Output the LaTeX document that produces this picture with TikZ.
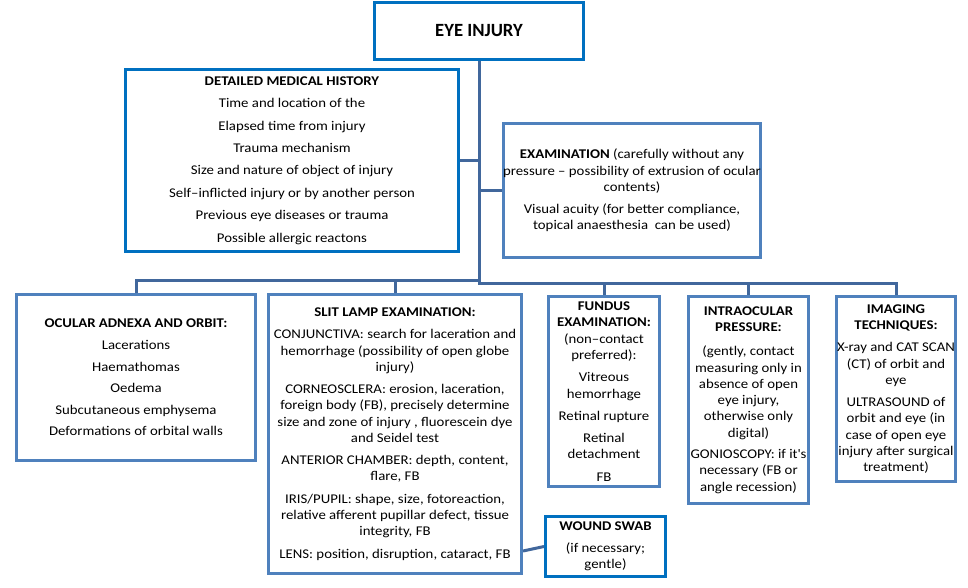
\documentclass[tikz,border=0pt]{standalone}
\usepackage{fontspec}
\setmainfont{Carlito}[FakeStretch=1.11]
\newfontfamily\plainfont{Carlito}
\usetikzlibrary{calc}
\definecolor{strongblue}{HTML}{0070C0}
\definecolor{steelblue}{HTML}{4F81BD}
\definecolor{linkblue}{HTML}{41679C}
\begin{document}
\begin{tikzpicture}[x=0.75pt,y=-0.75pt,
  box/.style={draw=steelblue, line width=2.25pt, fill=white, inner sep=0pt, align=center,
    font=\fontsize{10}{12.2}\selectfont},
  mainbox/.style={box, draw=strongblue},
  link/.style={draw=linkblue, line width=2.25pt}]
\useasboundingbox (0,0) rectangle (968,588);

% nodes
\node[mainbox, minimum width=209*0.75pt, minimum height=57*0.75pt, font=\plainfont\fontsize{14}{17}\selectfont\bfseries]
  (eye) at (479,31) {EYE INJURY};
\node[mainbox, minimum width=333*0.75pt, minimum height=182*0.75pt] (history) at (292,160.5)
  {\textbf{DETAILED MEDICAL HISTORY}\\[4.6pt]
   Time and location of the\\[4.6pt]
   Elapsed time from injury\\[4.6pt]
   Trauma mechanism\\[4.6pt]
   Size and nature of object of injury\\[4.6pt]
   Self–inflicted injury or by another person\\[4.6pt]
   Previous eye diseases or trauma\\[4.6pt]
   Possible allergic reactons};
\node[box, minimum width=257*0.75pt, minimum height=134*0.75pt] (exam) at (632,190.5)
  {\textbf{EXAMINATION} (carefully without any\\
   pressure – possibility of extrusion of ocular\\
   contents)\\[4.5pt]
   Visual acuity (for better compliance,\\
   topical anaesthesia\ \ can be used)};
\node[box, minimum width=239*0.75pt, minimum height=166*0.75pt] (ocular) at (136,377.5)
  {\textbf{OCULAR ADNEXA AND ORBIT:}\\[4pt]
   Lacerations\\[4pt]
   Haemathomas\\[4pt]
   Oedema\\[4pt]
   Subcutaneous emphysema\\[4pt]
   Deformations of orbital walls};
\node[box, minimum width=253*0.75pt, minimum height=279*0.75pt] (slit) at (395,434)
  {\textbf{SLIT LAMP EXAMINATION:}\\[4.5pt]
   CONJUNCTIVA: search for laceration and\\
   hemorrhage (possibility of open globe\\
   injury)\\[4.5pt]
   CORNEOSCLERA: erosion, laceration,\\
   foreign body (FB), precisely determine\\
   size and zone of injury , fluorescein dye\\
   and Seidel test\\[4.5pt]
   ANTERIOR CHAMBER: depth, content,\\
   flare, FB\\[4.5pt]
   IRIS/PUPIL: shape, size, fotoreaction,\\
   relative afferent pupillar defect, tissue\\
   integrity, FB\\[4.5pt]
   LENS: position, disruption, cataract, FB};
\node[box, minimum width=111*0.75pt, minimum height=190*0.75pt] (fundus) at (604,391.5)
  {\textbf{FUNDUS}\\
   \textbf{EXAMINATION:}\\
   (non–contact\\
   preferred):\\[4.5pt]
   Vitreous\\
   hemorrhage\\[4.5pt]
   Retinal rupture\\[4.5pt]
   Retinal\\
   detachment\\[4.5pt]
   FB};
\node[box, minimum width=120*0.75pt, minimum height=207*0.75pt] (intra) at (748.5,400)
  {\textbf{INTRAOCULAR}\\
   \textbf{PRESSURE:}\\[6pt]
   (gently, contact\\
   measuring only in\\
   absence of open\\
   eye injury,\\
   otherwise only\\
   digital)\\[4pt]
   GONIOSCOPY: if it\textquotesingle s\\
   necessary (FB or\\
   angle recession)};
\node[box, minimum width=119*0.75pt, minimum height=185*0.75pt] (imaging) at (896,389)
  {\textbf{IMAGING}\\
   \textbf{TECHNIQUES:}\\[4.5pt]
   X-ray and CAT SCAN\\
   (CT) of orbit and\\
   eye\\[4.5pt]
   ULTRASOUND of\\
   orbit and eye (in\\
   case of open eye\\
   injury after surgical\\
   treatment)};
\node[mainbox, minimum width=120*0.75pt, minimum height=60*0.75pt] (wound) at (605.5,546.5)
  {\textbf{WOUND SWAB}\\[4pt]
   (if necessary;\\
   gentle)};

% connectors
\coordinate (jR) at (479,283.5);
\coordinate (jL) at (479,280.5);
\draw[link] (eye.south) -- (jR) -| (imaging.north);
\draw[link] (fundus.north) -- (fundus.north |- jR);
\draw[link] (intra.north) -- (intra.north |- jR);
\draw[link] (jL) -| (ocular.north);
\draw[link] (slit.north) -- (slit.north |- jL);
\draw[link] (history.east) -- (history.east -| eye.south);
\draw[link] (exam.west) -- (exam.west -| eye.south);
\draw[link] ([yshift=-87.75pt]slit.east) -- (wound.west);
\end{tikzpicture}
\end{document}
